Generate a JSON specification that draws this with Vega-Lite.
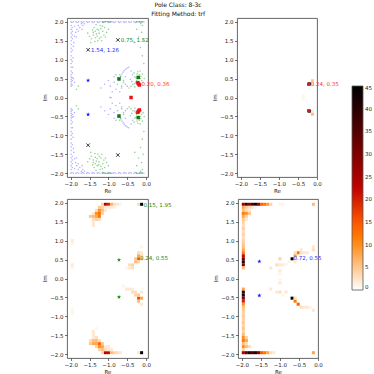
{
"$schema": "https://vega.github.io/schema/vega-lite/v6.json",
"background": "white",
"padding": {"left": 42, "top": 1, "right": 0, "bottom": 0},
"title": {"text": ["Pole Class: 8-3c", "Fitting Method: trf"], "fontSize": 6, "lineHeight": 9, "fontWeight": "normal", "font": "DejaVu Sans", "color": "#111", "anchor": "middle", "offset": 1, "dx": -29},
"spacing": 3,
"datasets": {
"blue": [
{"x":-2.0,"y":2.0},{"x":-1.93,"y":2.0},{"x":-1.86,"y":2.0},{"x":-1.79,"y":2.0},{"x":-1.72,"y":2.0},{"x":-1.65,"y":2.0},{"x":-1.58,"y":2.0},{"x":-1.51,"y":2.0},{"x":-1.44,"y":2.0},{"x":-1.37,"y":2.0},{"x":-1.3,"y":2.0},{"x":-1.23,"y":2.0},{"x":-1.16,"y":2.0},{"x":-1.09,"y":2.0},{"x":-1.02,"y":2.0},{"x":-0.95,"y":2.0},{"x":-0.88,"y":2.0},{"x":-0.81,"y":2.0},{"x":-0.74,"y":2.0},{"x":-0.67,"y":2.0},{"x":-0.6,"y":2.0},{"x":-0.53,"y":2.0},{"x":-0.46,"y":2.0},{"x":-0.39,"y":2.0},{"x":-0.32,"y":2.0},{"x":-0.25,"y":2.0},{"x":-0.18,"y":2.0},{"x":-0.11,"y":2.0},
{"x":-1.97,"y":1.98},{"x":-1.83,"y":1.98},{"x":-1.69,"y":1.98},{"x":-1.55,"y":1.98},{"x":-1.41,"y":1.98},{"x":-1.27,"y":1.98},{"x":-1.13,"y":1.98},{"x":-0.99,"y":1.98},{"x":-0.85,"y":1.98},{"x":-0.71,"y":1.98},{"x":-0.57,"y":1.98},{"x":-0.43,"y":1.98},{"x":-0.29,"y":1.98},{"x":-0.15,"y":1.98},
{"x":-1.99,"y":0.3},{"x":-1.99,"y":0.36},{"x":-1.99,"y":0.42},{"x":-1.99,"y":0.48},{"x":-1.99,"y":0.54},{"x":-1.99,"y":0.6},{"x":-1.99,"y":0.7},{"x":-1.99,"y":0.8},{"x":-1.99,"y":0.9},{"x":-1.99,"y":1.0},{"x":-1.99,"y":1.1},{"x":-1.99,"y":1.2},{"x":-1.99,"y":1.3},{"x":-1.99,"y":1.4},{"x":-1.99,"y":1.5},{"x":-1.99,"y":1.6},{"x":-1.99,"y":1.7},{"x":-1.99,"y":1.8},{"x":-1.99,"y":1.9},
{"x":-1.96,"y":0.33},{"x":-1.96,"y":0.45},{"x":-1.96,"y":0.52},{"x":-1.96,"y":0.65},{"x":-1.96,"y":0.95},{"x":-1.96,"y":1.25},{"x":-1.96,"y":1.55},{"x":-1.96,"y":1.65},{"x":-1.96,"y":1.75},{"x":-1.96,"y":1.85},
{"x":-1.92,"y":1.45},{"x":-1.9,"y":1.62},{"x":-1.87,"y":1.72},{"x":-1.84,"y":1.8},{"x":-1.8,"y":1.9},{"x":-1.76,"y":1.85},{"x":-1.72,"y":1.95},{"x":-1.68,"y":1.9},{"x":-1.85,"y":1.6},{"x":-1.9,"y":1.88},{"x":-1.8,"y":1.75},{"x":-1.93,"y":1.35},{"x":-1.64,"y":1.95},{"x":-1.94,"y":1.05},{"x":-1.95,"y":0.8},{"x":-1.7,"y":1.8},{"x":-1.93,"y":0.5},{"x":-1.9,"y":0.4},
{"x":-0.69,"y":0.52},{"x":-0.67,"y":0.57},{"x":-0.64,"y":0.62},{"x":-0.61,"y":0.67},{"x":-0.58,"y":0.71},{"x":-0.54,"y":0.75},{"x":-0.5,"y":0.78},{"x":-0.46,"y":0.8},
{"x":-1.0,"y":0.45},{"x":-0.95,"y":0.3},{"x":-0.85,"y":0.4},{"x":-0.8,"y":0.22},{"x":-0.9,"y":0.15},{"x":-1.1,"y":0.35},{"x":-0.76,"y":0.35},{"x":-0.6,"y":0.4},{"x":-0.5,"y":0.3},{"x":-0.42,"y":0.48},{"x":-0.36,"y":0.6},{"x":-0.3,"y":0.36},{"x":-1.2,"y":0.25},{"x":-0.7,"y":0.15},{"x":-0.55,"y":0.55},{"x":-0.4,"y":0.7},{"x":-0.85,"y":0.55},{"x":-0.65,"y":0.25},
{"x":-0.96,"y":0.0},{"x":-0.93,"y":0.0},
{"x":-2.0,"y":-2.0},{"x":-1.93,"y":-2.0},{"x":-1.86,"y":-2.0},{"x":-1.79,"y":-2.0},{"x":-1.72,"y":-2.0},{"x":-1.65,"y":-2.0},{"x":-1.58,"y":-2.0},{"x":-1.51,"y":-2.0},{"x":-1.44,"y":-2.0},{"x":-1.37,"y":-2.0},{"x":-1.3,"y":-2.0},{"x":-1.23,"y":-2.0},{"x":-1.16,"y":-2.0},{"x":-1.09,"y":-2.0},{"x":-1.02,"y":-2.0},{"x":-0.95,"y":-2.0},{"x":-0.88,"y":-2.0},{"x":-0.81,"y":-2.0},{"x":-0.74,"y":-2.0},{"x":-0.67,"y":-2.0},{"x":-0.6,"y":-2.0},{"x":-0.53,"y":-2.0},{"x":-0.46,"y":-2.0},{"x":-0.39,"y":-2.0},{"x":-0.32,"y":-2.0},{"x":-0.25,"y":-2.0},{"x":-0.18,"y":-2.0},{"x":-0.11,"y":-2.0},
{"x":-1.97,"y":-1.98},{"x":-1.83,"y":-1.98},{"x":-1.69,"y":-1.98},{"x":-1.55,"y":-1.98},{"x":-1.41,"y":-1.98},{"x":-1.27,"y":-1.98},{"x":-1.13,"y":-1.98},{"x":-0.99,"y":-1.98},{"x":-0.85,"y":-1.98},{"x":-0.71,"y":-1.98},{"x":-0.57,"y":-1.98},{"x":-0.43,"y":-1.98},{"x":-0.29,"y":-1.98},{"x":-0.15,"y":-1.98},
{"x":-1.99,"y":-0.3},{"x":-1.99,"y":-0.36},{"x":-1.99,"y":-0.42},{"x":-1.99,"y":-0.48},{"x":-1.99,"y":-0.54},{"x":-1.99,"y":-0.6},{"x":-1.99,"y":-0.7},{"x":-1.99,"y":-0.8},{"x":-1.99,"y":-0.9},{"x":-1.99,"y":-1.0},{"x":-1.99,"y":-1.1},{"x":-1.99,"y":-1.2},{"x":-1.99,"y":-1.3},{"x":-1.99,"y":-1.4},{"x":-1.99,"y":-1.5},{"x":-1.99,"y":-1.6},{"x":-1.99,"y":-1.7},{"x":-1.99,"y":-1.8},{"x":-1.99,"y":-1.9},
{"x":-1.96,"y":-0.33},{"x":-1.96,"y":-0.45},{"x":-1.96,"y":-0.52},{"x":-1.96,"y":-0.65},{"x":-1.96,"y":-0.95},{"x":-1.96,"y":-1.25},{"x":-1.96,"y":-1.55},{"x":-1.96,"y":-1.65},{"x":-1.96,"y":-1.75},{"x":-1.96,"y":-1.85},
{"x":-1.92,"y":-1.45},{"x":-1.9,"y":-1.62},{"x":-1.87,"y":-1.72},{"x":-1.84,"y":-1.8},{"x":-1.8,"y":-1.9},{"x":-1.76,"y":-1.85},{"x":-1.72,"y":-1.95},{"x":-1.68,"y":-1.9},{"x":-1.85,"y":-1.6},{"x":-1.9,"y":-1.88},{"x":-1.8,"y":-1.75},{"x":-1.93,"y":-1.35},{"x":-1.64,"y":-1.95},{"x":-1.94,"y":-1.05},{"x":-1.95,"y":-0.8},{"x":-1.7,"y":-1.8},{"x":-1.93,"y":-0.5},{"x":-1.9,"y":-0.4},
{"x":-0.69,"y":-0.52},{"x":-0.67,"y":-0.57},{"x":-0.64,"y":-0.62},{"x":-0.61,"y":-0.67},{"x":-0.58,"y":-0.71},{"x":-0.54,"y":-0.75},{"x":-0.5,"y":-0.78},{"x":-0.46,"y":-0.8},
{"x":-1.0,"y":-0.45},{"x":-0.95,"y":-0.3},{"x":-0.85,"y":-0.4},{"x":-0.8,"y":-0.22},{"x":-0.9,"y":-0.15},{"x":-1.1,"y":-0.35},{"x":-0.76,"y":-0.35},{"x":-0.6,"y":-0.4},{"x":-0.5,"y":-0.3},{"x":-0.42,"y":-0.48},{"x":-0.36,"y":-0.6},{"x":-0.3,"y":-0.36},{"x":-1.2,"y":-0.25},{"x":-0.7,"y":-0.15},{"x":-0.55,"y":-0.55},{"x":-0.4,"y":-0.7},{"x":-0.85,"y":-0.55},{"x":-0.65,"y":-0.25}
],
"green": [
{"x":-1.45,"y":1.55},{"x":-1.4,"y":1.65},{"x":-1.35,"y":1.75},{"x":-1.3,"y":1.8},{"x":-1.25,"y":1.7},{"x":-1.2,"y":1.6},{"x":-1.3,"y":1.62},{"x":-1.38,"y":1.85},{"x":-1.15,"y":1.75},{"x":-1.1,"y":1.85},{"x":-1.22,"y":1.9},{"x":-1.5,"y":1.62},{"x":-1.28,"y":1.5},{"x":-1.18,"y":1.5},{"x":-1.33,"y":1.93},{"x":-1.05,"y":1.72},{"x":-1.42,"y":1.78},{"x":-1.26,"y":1.78},{"x":-1.35,"y":1.58},{"x":-1.2,"y":1.82},{"x":-1.55,"y":1.7},{"x":-1.0,"y":1.8},{"x":-1.12,"y":1.65},{"x":-1.47,"y":1.45},{"x":-1.32,"y":1.68},{"x":-1.24,"y":1.56},{"x":-1.4,"y":1.72},{"x":-1.16,"y":1.88},{"x":-1.08,"y":1.6},{"x":-1.36,"y":1.48},
{"x":-1.12,"y":2.0},{"x":-1.08,"y":2.0},{"x":-1.04,"y":2.0},{"x":-1.0,"y":2.0},{"x":-0.96,"y":1.99},{"x":-1.16,"y":1.99},{"x":-0.92,"y":2.0},{"x":-0.22,"y":2.0},{"x":-0.18,"y":2.0},{"x":-0.14,"y":2.0},{"x":-0.1,"y":1.99},{"x":-0.06,"y":2.0},{"x":-0.26,"y":1.99},
{"x":-0.1,"y":1.9},{"x":-0.12,"y":1.72},{"x":-0.08,"y":1.5},{"x":-0.15,"y":1.32},{"x":-0.1,"y":1.1},{"x":-0.06,"y":0.9},{"x":-0.2,"y":1.6},{"x":-0.3,"y":1.45},{"x":-0.25,"y":1.8},{"x":-0.14,"y":1.95},
{"x":-0.25,"y":0.45},{"x":-0.22,"y":0.5},{"x":-0.2,"y":0.55},{"x":-0.18,"y":0.6},{"x":-0.15,"y":0.5},{"x":-0.28,"y":0.4},{"x":-0.3,"y":0.55},{"x":-0.12,"y":0.45},{"x":-0.24,"y":0.62},{"x":-0.35,"y":0.35},{"x":-0.4,"y":0.3},{"x":-0.45,"y":0.25},{"x":-0.16,"y":0.7},{"x":-0.1,"y":0.62},{"x":-0.27,"y":0.52},{"x":-0.2,"y":0.42},{"x":-0.13,"y":0.35},{"x":-0.32,"y":0.65},{"x":-0.05,"y":0.5},{"x":-0.38,"y":0.42},{"x":-0.22,"y":0.68},{"x":-0.14,"y":0.56},{"x":-0.3,"y":0.28},{"x":-0.08,"y":0.4},
{"x":-0.72,"y":0.45},{"x":-0.68,"y":0.55},{"x":-0.75,"y":0.52},{"x":-0.6,"y":0.45},{"x":-0.55,"y":0.35},{"x":-0.65,"y":0.3},{"x":-0.8,"y":0.6},{"x":-0.7,"y":0.6},
{"x":-1.85,"y":0.22},{"x":-1.8,"y":0.3},
{"x":-1.45,"y":-1.55},{"x":-1.4,"y":-1.65},{"x":-1.35,"y":-1.75},{"x":-1.3,"y":-1.8},{"x":-1.25,"y":-1.7},{"x":-1.2,"y":-1.6},{"x":-1.3,"y":-1.62},{"x":-1.38,"y":-1.85},{"x":-1.15,"y":-1.75},{"x":-1.1,"y":-1.85},{"x":-1.22,"y":-1.9},{"x":-1.5,"y":-1.62},{"x":-1.28,"y":-1.5},{"x":-1.18,"y":-1.5},{"x":-1.33,"y":-1.93},{"x":-1.05,"y":-1.72},{"x":-1.42,"y":-1.78},{"x":-1.26,"y":-1.78},{"x":-1.35,"y":-1.58},{"x":-1.2,"y":-1.82},{"x":-1.55,"y":-1.7},{"x":-1.0,"y":-1.8},{"x":-1.12,"y":-1.65},{"x":-1.47,"y":-1.45},{"x":-1.32,"y":-1.68},{"x":-1.24,"y":-1.56},{"x":-1.4,"y":-1.72},{"x":-1.16,"y":-1.88},{"x":-1.08,"y":-1.6},{"x":-1.36,"y":-1.48},
{"x":-1.12,"y":-2.0},{"x":-1.08,"y":-2.0},{"x":-1.04,"y":-2.0},{"x":-1.0,"y":-2.0},{"x":-0.96,"y":-1.99},{"x":-1.16,"y":-1.99},{"x":-0.92,"y":-2.0},{"x":-0.22,"y":-2.0},{"x":-0.18,"y":-2.0},{"x":-0.14,"y":-2.0},{"x":-0.1,"y":-1.99},{"x":-0.06,"y":-2.0},{"x":-0.26,"y":-1.99},
{"x":-0.1,"y":-1.9},{"x":-0.12,"y":-1.72},{"x":-0.08,"y":-1.5},{"x":-0.15,"y":-1.32},{"x":-0.1,"y":-1.1},{"x":-0.06,"y":-0.9},{"x":-0.2,"y":-1.6},{"x":-0.3,"y":-1.45},{"x":-0.25,"y":-1.8},{"x":-0.14,"y":-1.95},
{"x":-0.25,"y":-0.45},{"x":-0.22,"y":-0.5},{"x":-0.2,"y":-0.55},{"x":-0.18,"y":-0.6},{"x":-0.15,"y":-0.5},{"x":-0.28,"y":-0.4},{"x":-0.3,"y":-0.55},{"x":-0.12,"y":-0.45},{"x":-0.24,"y":-0.62},{"x":-0.35,"y":-0.35},{"x":-0.4,"y":-0.3},{"x":-0.45,"y":-0.25},{"x":-0.16,"y":-0.7},{"x":-0.1,"y":-0.62},{"x":-0.27,"y":-0.52},{"x":-0.2,"y":-0.42},{"x":-0.13,"y":-0.35},{"x":-0.32,"y":-0.65},{"x":-0.05,"y":-0.5},{"x":-0.38,"y":-0.42},{"x":-0.22,"y":-0.68},{"x":-0.14,"y":-0.56},{"x":-0.3,"y":-0.28},{"x":-0.08,"y":-0.4},
{"x":-0.72,"y":-0.45},{"x":-0.68,"y":-0.55},{"x":-0.75,"y":-0.52},{"x":-0.6,"y":-0.45},{"x":-0.55,"y":-0.35},{"x":-0.65,"y":-0.3},{"x":-0.8,"y":-0.6},{"x":-0.7,"y":-0.6},
{"x":-1.85,"y":-0.22},{"x":-1.8,"y":-0.3}
],
"pts": [
{"p":"TL","k":"bstar","x":-1.54,"y":0.45},{"p":"TL","k":"bstar","x":-1.54,"y":-0.45},
{"p":"TL","k":"gsq","x":-0.72,"y":0.49},{"p":"TL","k":"gsq","x":-0.72,"y":-0.49},{"p":"TL","k":"gsq","x":-0.21,"y":0.53},{"p":"TL","k":"gsq","x":-0.21,"y":-0.53},
{"p":"TL","k":"rsq","x":-0.2,"y":0.36},{"p":"TL","k":"rsq","x":-0.2,"y":-0.36},{"p":"TL","k":"rsq","x":-0.22,"y":0.39},{"p":"TL","k":"rsq","x":-0.22,"y":-0.39},{"p":"TL","k":"rsq","x":-0.18,"y":0.33},{"p":"TL","k":"rsq","x":-0.18,"y":-0.33},{"p":"TL","k":"rsq","x":-0.4,"y":0.0},
{"p":"TL","k":"xm","x":-1.54,"y":1.26},{"p":"TL","k":"xm","x":-1.54,"y":-1.26},{"p":"TL","k":"xm","x":-0.75,"y":1.52},{"p":"TL","k":"xm","x":-0.75,"y":-1.52},
{"p":"TR","k":"rsq","x":-0.22,"y":0.35},{"p":"TR","k":"rsq","x":-0.22,"y":-0.35},
{"p":"BL","k":"gstar","x":-0.72,"y":0.49},{"p":"BL","k":"gstar","x":-0.72,"y":-0.49},
{"p":"BR","k":"bstar","x":-1.54,"y":0.45},{"p":"BR","k":"bstar","x":-1.54,"y":-0.45}
],
"anno": [
{"p":"TL","k":"b","x":-1.54,"y":1.26,"t":"1.54, 1.26"},
{"p":"TL","k":"g","x":-0.75,"y":1.52,"t":"0.75, 1.52"},
{"p":"TL","k":"r","x":-0.2,"y":0.36,"t":"0.20, 0.36"},
{"p":"TR","k":"r","x":-0.24,"y":0.35,"t":"0.24, 0.35"},
{"p":"BL","k":"g","x":-0.15,"y":1.95,"t":"0.15, 1.95"},
{"p":"BL","k":"g","x":-0.24,"y":0.55,"t":"0.24, 0.55"},
{"p":"BR","k":"b","x":-0.72,"y":0.55,"t":"0.72, 0.55"}
],
"heat": [
{"p":"TR","x":-0.24,"y":0.32,"n":45},{"p":"TR","x":-0.16,"y":0.4,"n":5},{"p":"TR","x":-0.16,"y":0.32,"n":2},{"p":"TR","x":-0.24,"y":-0.4,"n":45},{"p":"TR","x":-0.16,"y":-0.48,"n":6},{"p":"TR","x":-0.16,"y":-0.4,"n":2},{"p":"TR","x":-0.4,"y":-0.08,"n":1},{"p":"TR","x":-0.4,"y":0.0,"n":1},
{"p":"BL","x":-1.2,"y":1.92,"n":4},{"p":"BL","x":-1.12,"y":1.92,"n":24},{"p":"BL","x":-1.04,"y":1.92,"n":20},{"p":"BL","x":-0.96,"y":1.92,"n":7},{"p":"BL","x":-0.88,"y":1.92,"n":3},{"p":"BL","x":-0.8,"y":1.92,"n":2},{"p":"BL","x":-0.72,"y":1.92,"n":1},{"p":"BL","x":-0.24,"y":1.92,"n":3},{"p":"BL","x":-0.16,"y":1.92,"n":45},
{"p":"BL","x":-1.28,"y":1.84,"n":5},{"p":"BL","x":-1.2,"y":1.84,"n":4},{"p":"BL","x":-1.12,"y":1.84,"n":2},{"p":"BL","x":-1.04,"y":1.84,"n":2},{"p":"BL","x":-0.96,"y":1.84,"n":2},{"p":"BL","x":-0.88,"y":1.84,"n":1},
{"p":"BL","x":-1.36,"y":1.76,"n":3},{"p":"BL","x":-1.28,"y":1.76,"n":10},{"p":"BL","x":-1.2,"y":1.76,"n":6},{"p":"BL","x":-1.12,"y":1.76,"n":2},
{"p":"BL","x":-1.44,"y":1.68,"n":2},{"p":"BL","x":-1.36,"y":1.68,"n":10},{"p":"BL","x":-1.28,"y":1.68,"n":13},{"p":"BL","x":-1.2,"y":1.68,"n":4},
{"p":"BL","x":-1.52,"y":1.6,"n":5},{"p":"BL","x":-1.44,"y":1.6,"n":6},{"p":"BL","x":-1.36,"y":1.6,"n":8},{"p":"BL","x":-1.28,"y":1.6,"n":12},
{"p":"BL","x":-1.44,"y":1.52,"n":3},{"p":"BL","x":-1.36,"y":1.52,"n":4},{"p":"BL","x":-1.28,"y":1.52,"n":3},
{"p":"BL","x":-1.44,"y":1.44,"n":2},{"p":"BL","x":-1.44,"y":1.36,"n":2},
{"p":"BL","x":-2.0,"y":0.96,"n":2},{"p":"BL","x":-2.0,"y":0.88,"n":1},{"p":"BL","x":-2.0,"y":0.32,"n":2},{"p":"BL","x":-2.0,"y":0.24,"n":1},
{"p":"BL","x":-0.24,"y":0.48,"n":15},{"p":"BL","x":-0.24,"y":0.56,"n":8},{"p":"BL","x":-0.16,"y":0.48,"n":5},{"p":"BL","x":-0.16,"y":0.56,"n":4},{"p":"BL","x":-0.32,"y":0.48,"n":5},{"p":"BL","x":-0.32,"y":0.4,"n":6},{"p":"BL","x":-0.4,"y":0.32,"n":4},{"p":"BL","x":-0.48,"y":0.32,"n":3},{"p":"BL","x":-0.48,"y":0.24,"n":2},{"p":"BL","x":-0.4,"y":0.24,"n":3},{"p":"BL","x":-0.56,"y":0.24,"n":1},{"p":"BL","x":-0.24,"y":0.64,"n":3},{"p":"BL","x":-0.16,"y":0.64,"n":2},{"p":"BL","x":-0.16,"y":0.8,"n":1},{"p":"BL","x":-0.24,"y":0.4,"n":4},
{"p":"BL","x":-1.2,"y":-2.0,"n":4},{"p":"BL","x":-1.12,"y":-2.0,"n":24},{"p":"BL","x":-1.04,"y":-2.0,"n":22},{"p":"BL","x":-0.96,"y":-2.0,"n":6},{"p":"BL","x":-0.88,"y":-2.0,"n":4},{"p":"BL","x":-0.8,"y":-2.0,"n":3},{"p":"BL","x":-0.72,"y":-2.0,"n":2},{"p":"BL","x":-0.24,"y":-2.0,"n":2},{"p":"BL","x":-0.16,"y":-2.0,"n":45},
{"p":"BL","x":-1.28,"y":-1.92,"n":4},{"p":"BL","x":-1.2,"y":-1.92,"n":6},{"p":"BL","x":-1.12,"y":-1.92,"n":3},{"p":"BL","x":-1.04,"y":-1.92,"n":2},{"p":"BL","x":-0.96,"y":-1.92,"n":2},
{"p":"BL","x":-1.36,"y":-1.84,"n":4},{"p":"BL","x":-1.28,"y":-1.84,"n":10},{"p":"BL","x":-1.2,"y":-1.84,"n":8},{"p":"BL","x":-1.12,"y":-1.84,"n":2},{"p":"BL","x":-1.04,"y":-1.84,"n":2},
{"p":"BL","x":-1.52,"y":-1.76,"n":5},{"p":"BL","x":-1.44,"y":-1.76,"n":8},{"p":"BL","x":-1.36,"y":-1.76,"n":8},{"p":"BL","x":-1.28,"y":-1.76,"n":14},{"p":"BL","x":-1.2,"y":-1.76,"n":5},
{"p":"BL","x":-1.52,"y":-1.68,"n":3},{"p":"BL","x":-1.44,"y":-1.68,"n":6},{"p":"BL","x":-1.36,"y":-1.68,"n":6},{"p":"BL","x":-1.28,"y":-1.68,"n":3},
{"p":"BL","x":-1.44,"y":-1.6,"n":2},{"p":"BL","x":-1.36,"y":-1.6,"n":3},{"p":"BL","x":-1.44,"y":-1.52,"n":2},{"p":"BL","x":-1.44,"y":-1.44,"n":2},{"p":"BL","x":-1.36,"y":-1.36,"n":1},
{"p":"BL","x":-2.0,"y":-0.96,"n":1},{"p":"BL","x":-2.0,"y":-0.88,"n":1},
{"p":"BL","x":-0.24,"y":-0.56,"n":16},{"p":"BL","x":-0.16,"y":-0.56,"n":8},{"p":"BL","x":-0.24,"y":-0.64,"n":6},{"p":"BL","x":-0.24,"y":-0.48,"n":5},{"p":"BL","x":-0.32,"y":-0.48,"n":4},{"p":"BL","x":-0.32,"y":-0.4,"n":3},{"p":"BL","x":-0.4,"y":-0.4,"n":3},{"p":"BL","x":-0.48,"y":-0.32,"n":2},{"p":"BL","x":-0.56,"y":-0.32,"n":2},{"p":"BL","x":-0.4,"y":-0.32,"n":2},{"p":"BL","x":-0.64,"y":-0.24,"n":1},{"p":"BL","x":-0.16,"y":-0.72,"n":2},{"p":"BL","x":-0.16,"y":-0.4,"n":2},
{"p":"BR","x":-2.0,"y":1.92,"n":28},{"p":"BR","x":-1.92,"y":1.92,"n":38},{"p":"BR","x":-1.84,"y":1.92,"n":30},{"p":"BR","x":-1.76,"y":1.92,"n":36},{"p":"BR","x":-1.68,"y":1.92,"n":42},{"p":"BR","x":-1.6,"y":1.92,"n":26},{"p":"BR","x":-1.52,"y":1.92,"n":14},{"p":"BR","x":-1.44,"y":1.92,"n":12},{"p":"BR","x":-1.36,"y":1.92,"n":9},{"p":"BR","x":-1.28,"y":1.92,"n":4},{"p":"BR","x":-1.04,"y":1.92,"n":1},{"p":"BR","x":-0.96,"y":1.92,"n":1},{"p":"BR","x":-0.16,"y":1.92,"n":6},
{"p":"BR","x":-2.0,"y":1.84,"n":8},{"p":"BR","x":-1.92,"y":1.84,"n":5},{"p":"BR","x":-1.84,"y":1.84,"n":3},{"p":"BR","x":-1.76,"y":1.84,"n":2},{"p":"BR","x":-1.68,"y":1.84,"n":1},
{"p":"BR","x":-2.0,"y":1.76,"n":6},{"p":"BR","x":-1.92,"y":1.76,"n":3},{"p":"BR","x":-1.84,"y":1.76,"n":2},
{"p":"BR","x":-2.0,"y":1.68,"n":12},{"p":"BR","x":-1.92,"y":1.68,"n":10},{"p":"BR","x":-1.84,"y":1.68,"n":5},
{"p":"BR","x":-2.0,"y":1.6,"n":8},{"p":"BR","x":-1.92,"y":1.6,"n":4},{"p":"BR","x":-2.0,"y":1.52,"n":5},{"p":"BR","x":-1.92,"y":1.52,"n":2},
{"p":"BR","x":-2.0,"y":1.44,"n":4},{"p":"BR","x":-2.0,"y":1.36,"n":3},{"p":"BR","x":-2.0,"y":1.28,"n":4},{"p":"BR","x":-2.0,"y":1.2,"n":3},{"p":"BR","x":-2.0,"y":1.12,"n":4},{"p":"BR","x":-2.0,"y":1.04,"n":3},{"p":"BR","x":-2.0,"y":0.96,"n":4},{"p":"BR","x":-2.0,"y":0.88,"n":5},{"p":"BR","x":-2.0,"y":0.8,"n":6},{"p":"BR","x":-2.0,"y":0.72,"n":8},{"p":"BR","x":-2.0,"y":0.64,"n":12},{"p":"BR","x":-2.0,"y":0.56,"n":22},{"p":"BR","x":-2.0,"y":0.48,"n":32},{"p":"BR","x":-2.0,"y":0.4,"n":40},{"p":"BR","x":-2.0,"y":0.32,"n":30},{"p":"BR","x":-2.0,"y":0.24,"n":6},
{"p":"BR","x":-0.72,"y":0.48,"n":45},{"p":"BR","x":-0.64,"y":0.56,"n":9},{"p":"BR","x":-0.56,"y":0.64,"n":12},{"p":"BR","x":-0.64,"y":0.64,"n":3},{"p":"BR","x":-0.48,"y":0.64,"n":3},{"p":"BR","x":-0.4,"y":0.64,"n":2},{"p":"BR","x":-0.32,"y":0.64,"n":2},{"p":"BR","x":-0.48,"y":0.72,"n":2},{"p":"BR","x":-0.16,"y":0.72,"n":3},{"p":"BR","x":-0.16,"y":0.8,"n":2},
{"p":"BR","x":-1.04,"y":0.48,"n":4},{"p":"BR","x":-1.12,"y":0.32,"n":3},{"p":"BR","x":-1.04,"y":0.32,"n":2},{"p":"BR","x":-0.96,"y":0.32,"n":2},{"p":"BR","x":-0.88,"y":0.32,"n":1},{"p":"BR","x":-1.28,"y":0.24,"n":2},{"p":"BR","x":-1.04,"y":0.16,"n":2},{"p":"BR","x":-1.04,"y":0.08,"n":1},{"p":"BR","x":-0.64,"y":0.4,"n":2},{"p":"BR","x":-0.8,"y":0.4,"n":1},
{"p":"BR","x":-2.0,"y":-0.32,"n":8},{"p":"BR","x":-2.0,"y":-0.4,"n":38},{"p":"BR","x":-2.0,"y":-0.48,"n":42},{"p":"BR","x":-2.0,"y":-0.56,"n":30},{"p":"BR","x":-2.0,"y":-0.64,"n":20},{"p":"BR","x":-2.0,"y":-0.72,"n":10},{"p":"BR","x":-2.0,"y":-0.8,"n":6},{"p":"BR","x":-2.0,"y":-0.88,"n":5},{"p":"BR","x":-2.0,"y":-0.96,"n":4},{"p":"BR","x":-2.0,"y":-1.04,"n":5},{"p":"BR","x":-2.0,"y":-1.12,"n":4},{"p":"BR","x":-2.0,"y":-1.2,"n":5},{"p":"BR","x":-2.0,"y":-1.28,"n":4},{"p":"BR","x":-2.0,"y":-1.36,"n":5},{"p":"BR","x":-2.0,"y":-1.44,"n":4},{"p":"BR","x":-2.0,"y":-1.52,"n":6},{"p":"BR","x":-2.0,"y":-1.6,"n":10},{"p":"BR","x":-2.0,"y":-1.68,"n":12},{"p":"BR","x":-2.0,"y":-1.76,"n":6},{"p":"BR","x":-2.0,"y":-1.84,"n":10},{"p":"BR","x":-2.0,"y":-1.92,"n":4},
{"p":"BR","x":-1.92,"y":-1.6,"n":4},{"p":"BR","x":-1.92,"y":-1.68,"n":8},{"p":"BR","x":-1.92,"y":-1.76,"n":3},{"p":"BR","x":-1.92,"y":-1.84,"n":6},{"p":"BR","x":-1.84,"y":-1.84,"n":3},
{"p":"BR","x":-2.0,"y":-2.0,"n":26},{"p":"BR","x":-1.92,"y":-2.0,"n":34},{"p":"BR","x":-1.84,"y":-2.0,"n":40},{"p":"BR","x":-1.76,"y":-2.0,"n":35},{"p":"BR","x":-1.68,"y":-2.0,"n":40},{"p":"BR","x":-1.6,"y":-2.0,"n":28},{"p":"BR","x":-1.52,"y":-2.0,"n":15},{"p":"BR","x":-1.44,"y":-2.0,"n":12},{"p":"BR","x":-1.36,"y":-2.0,"n":8},{"p":"BR","x":-1.28,"y":-2.0,"n":3},{"p":"BR","x":-1.2,"y":-2.0,"n":2},{"p":"BR","x":-0.16,"y":-2.0,"n":8},
{"p":"BR","x":-0.72,"y":-0.56,"n":45},{"p":"BR","x":-0.64,"y":-0.64,"n":12},{"p":"BR","x":-0.56,"y":-0.72,"n":14},{"p":"BR","x":-0.48,"y":-0.8,"n":3},{"p":"BR","x":-0.4,"y":-0.8,"n":2},{"p":"BR","x":-0.32,"y":-0.8,"n":2},{"p":"BR","x":-0.24,"y":-0.8,"n":1},{"p":"BR","x":-0.16,"y":-0.88,"n":2},{"p":"BR","x":-0.64,"y":-0.56,"n":3},
{"p":"BR","x":-1.04,"y":-0.4,"n":3},{"p":"BR","x":-1.12,"y":-0.4,"n":2},{"p":"BR","x":-1.04,"y":-0.16,"n":2},{"p":"BR","x":-1.04,"y":-0.08,"n":1},{"p":"BR","x":-1.28,"y":-0.32,"n":2},{"p":"BR","x":-0.88,"y":-0.4,"n":2},{"p":"BR","x":-0.96,"y":-0.48,"n":1}
]
},
"vconcat": [
{"hconcat": [
{"width": 81, "height": 159,
 "encoding": {
  "x": {"field": "x", "type": "quantitative", "scale": {"domain": [-2.1, 0.05], "nice": false, "zero": false}, "axis": {"values": [-2, -1.5, -1, -0.5, 0], "format": ".1f", "title": "Re"}},
  "y": {"field": "y", "type": "quantitative", "scale": {"domain": [-2.1, 2.1], "nice": false, "zero": false}, "axis": {"values": [-2, -1.5, -1, -0.5, 0, 0.5, 1, 1.5, 2], "format": ".1f", "title": "Im"}}
 },
 "layer": [
  {"data": {"name": "blue"}, "mark": {"type": "circle", "size": 2.5, "color": "#2222ff", "opacity": 0.35}},
  {"data": {"name": "green"}, "mark": {"type": "circle", "size": 2.5, "color": "#119911", "opacity": 0.45}},
  {"data": {"name": "pts"}, "transform": [{"filter": "datum.p == 'TL' && datum.k == 'bstar'"}], "mark": {"type": "point", "shape": "M0,-1L0.225,-0.309L0.951,-0.309L0.363,0.118L0.588,0.809L0,0.382L-0.588,0.809L-0.363,0.118L-0.951,-0.309L-0.225,-0.309Z", "filled": true, "color": "#1515ff", "size": 20, "opacity": 1}},
  {"data": {"name": "pts"}, "transform": [{"filter": "datum.p == 'TL' && datum.k == 'gsq'"}], "mark": {"type": "point", "shape": "square", "filled": true, "color": "#117711", "size": 12, "opacity": 1}},
  {"data": {"name": "pts"}, "transform": [{"filter": "datum.p == 'TL' && datum.k == 'rsq'"}], "mark": {"type": "point", "shape": "square", "filled": true, "color": "#ee1111", "size": 12, "opacity": 1}},
  {"data": {"name": "pts"}, "transform": [{"filter": "datum.p == 'TL' && datum.k == 'xm'"}], "mark": {"type": "point", "shape": "M-1,-1L1,1M-1,1L1,-1", "filled": false, "color": "#222222", "size": 12, "strokeWidth": 0.9, "opacity": 1}},
  {"data": {"name": "anno"}, "transform": [{"filter": "datum.p == 'TL' && datum.k == 'b'"}], "mark": {"type": "text", "align": "left", "baseline": "middle", "dx": 3, "fontSize": 5.5, "font": "DejaVu Sans", "color": "#2a2aff"}, "encoding": {"text": {"field": "t"}}},
  {"data": {"name": "anno"}, "transform": [{"filter": "datum.p == 'TL' && datum.k == 'g'"}], "mark": {"type": "text", "align": "left", "baseline": "middle", "dx": 3, "fontSize": 5.5, "font": "DejaVu Sans", "color": "#118811"}, "encoding": {"text": {"field": "t"}}},
  {"data": {"name": "anno"}, "transform": [{"filter": "datum.p == 'TL' && datum.k == 'r'"}], "mark": {"type": "text", "align": "left", "baseline": "middle", "dx": 3, "fontSize": 5.5, "font": "DejaVu Sans", "color": "#ff3333"}, "encoding": {"text": {"field": "t"}}}
 ]
},
{"width": 80, "height": 159,
 "encoding": {
  "x": {"field": "x", "type": "quantitative", "scale": {"domain": [-2.1, 0], "nice": false, "zero": false}, "axis": {"values": [-2, -1.5, -1, -0.5, 0], "format": ".1f", "title": "Re"}},
  "y": {"field": "y", "type": "quantitative", "scale": {"domain": [-2.1, 2.1], "nice": false, "zero": false}, "axis": {"values": [-2, -1.5, -1, -0.5, 0, 0.5, 1, 1.5, 2], "format": ".1f", "title": "Im"}}
 },
 "layer": [
  {"data": {"name": "heat"}, "transform": [{"filter": "datum.p == 'TR'"}], "mark": {"type": "point", "shape": "square", "filled": true, "size": 9.3, "opacity": 1, "strokeWidth": 0, "xOffset": 1.52, "yOffset": -1.52},
   "encoding": {
    "color": {"field": "n", "type": "quantitative", "scale": {"domain": [0, 11.25, 15, 22.5, 45], "range": ["#ffffff", "#ff8000", "#ff5500", "#bf0000", "#000000"], "interpolate": "rgb"},
      "legend": {"type": "gradient", "orient": "none", "legendX": 285, "legendY": 68, "direction": "vertical", "gradientLength": 204, "gradientThickness": 11, "title": null, "values": [0, 5, 10, 15, 20, 25, 30, 35, 40, 45], "labelFontSize": 5.5, "labelFont": "DejaVu Sans", "labelColor": "#222", "gradientStrokeColor": "#555", "gradientStrokeWidth": 0.8}}
   }},
  {"data": {"name": "pts"}, "transform": [{"filter": "datum.p == 'TR' && datum.k == 'rsq'"}], "mark": {"type": "point", "shape": "square", "filled": true, "color": "#ee1111", "size": 10, "opacity": 1}},
  {"data": {"name": "anno"}, "transform": [{"filter": "datum.p == 'TR'"}], "mark": {"type": "text", "align": "left", "baseline": "middle", "dx": 3, "fontSize": 5.5, "font": "DejaVu Sans", "color": "#ff3333"}, "encoding": {"text": {"field": "t"}}}
 ]
}
], "spacing": 41},
{"hconcat": [
{"width": 81, "height": 159,
 "encoding": {
  "x": {"field": "x", "type": "quantitative", "scale": {"domain": [-2.1, 0.05], "nice": false, "zero": false}, "axis": {"values": [-2, -1.5, -1, -0.5, 0], "format": ".1f", "title": "Re"}},
  "y": {"field": "y", "type": "quantitative", "scale": {"domain": [-2.1, 2.1], "nice": false, "zero": false}, "axis": {"values": [-2, -1.5, -1, -0.5, 0, 0.5, 1, 1.5, 2], "format": ".1f", "title": "Im"}}
 },
 "layer": [
  {"data": {"name": "heat"}, "transform": [{"filter": "datum.p == 'BL'"}], "mark": {"type": "point", "shape": "square", "filled": true, "size": 9.1, "opacity": 1, "strokeWidth": 0, "xOffset": 1.51, "yOffset": -1.52},
   "encoding": {
    "color": {"field": "n", "type": "quantitative", "scale": {"domain": [0, 11.25, 15, 22.5, 45], "range": ["#ffffff", "#ff8000", "#ff5500", "#bf0000", "#000000"], "interpolate": "rgb"}, "legend": null}
   }},
  {"data": {"name": "pts"}, "transform": [{"filter": "datum.p == 'BL' && datum.k == 'gstar'"}], "mark": {"type": "point", "shape": "M0,-1L0.225,-0.309L0.951,-0.309L0.363,0.118L0.588,0.809L0,0.382L-0.588,0.809L-0.363,0.118L-0.951,-0.309L-0.225,-0.309Z", "filled": true, "color": "#118811", "size": 20, "opacity": 1}},
  {"data": {"name": "anno"}, "transform": [{"filter": "datum.p == 'BL'"}], "mark": {"type": "text", "align": "left", "baseline": "middle", "dx": 3, "fontSize": 5.5, "font": "DejaVu Sans", "color": "#118811"}, "encoding": {"text": {"field": "t"}}}
 ]
},
{"width": 80, "height": 159,
 "encoding": {
  "x": {"field": "x", "type": "quantitative", "scale": {"domain": [-2.1, 0], "nice": false, "zero": false}, "axis": {"values": [-2, -1.5, -1, -0.5, 0], "format": ".1f", "title": "Re"}},
  "y": {"field": "y", "type": "quantitative", "scale": {"domain": [-2.1, 2.1], "nice": false, "zero": false}, "axis": {"values": [-2, -1.5, -1, -0.5, 0, 0.5, 1, 1.5, 2], "format": ".1f", "title": "Im"}}
 },
 "layer": [
  {"data": {"name": "heat"}, "transform": [{"filter": "datum.p == 'BR'"}], "mark": {"type": "point", "shape": "square", "filled": true, "size": 9.3, "opacity": 1, "strokeWidth": 0, "xOffset": 1.52, "yOffset": -1.52},
   "encoding": {
    "color": {"field": "n", "type": "quantitative", "scale": {"domain": [0, 11.25, 15, 22.5, 45], "range": ["#ffffff", "#ff8000", "#ff5500", "#bf0000", "#000000"], "interpolate": "rgb"}, "legend": null}
   }},
  {"data": {"name": "pts"}, "transform": [{"filter": "datum.p == 'BR' && datum.k == 'bstar'"}], "mark": {"type": "point", "shape": "M0,-1L0.225,-0.309L0.951,-0.309L0.363,0.118L0.588,0.809L0,0.382L-0.588,0.809L-0.363,0.118L-0.951,-0.309L-0.225,-0.309Z", "filled": true, "color": "#1515ff", "size": 20, "opacity": 1}},
  {"data": {"name": "anno"}, "transform": [{"filter": "datum.p == 'BR'"}], "mark": {"type": "text", "align": "left", "baseline": "middle", "dx": 3, "fontSize": 5.5, "font": "DejaVu Sans", "color": "#2a2aff"}, "encoding": {"text": {"field": "t"}}}
 ]
}
], "spacing": 41}
],
"config": {
 "view": {"stroke": "#555", "strokeWidth": 0.9},
 "axis": {"domain": false, "grid": false, "ticks": true, "tickSize": 2.5, "tickColor": "#333", "tickWidth": 0.7, "labelFontSize": 5.5, "labelFont": "DejaVu Sans", "labelColor": "#222", "labelPadding": 1.5, "labelFlush": false, "labelOverlap": false, "titleFontSize": 5.5, "titleFont": "DejaVu Sans", "titleFontWeight": "normal", "titleColor": "#222", "titlePadding": 2},
 "legend": {"labelFont": "DejaVu Sans"}
}
}
